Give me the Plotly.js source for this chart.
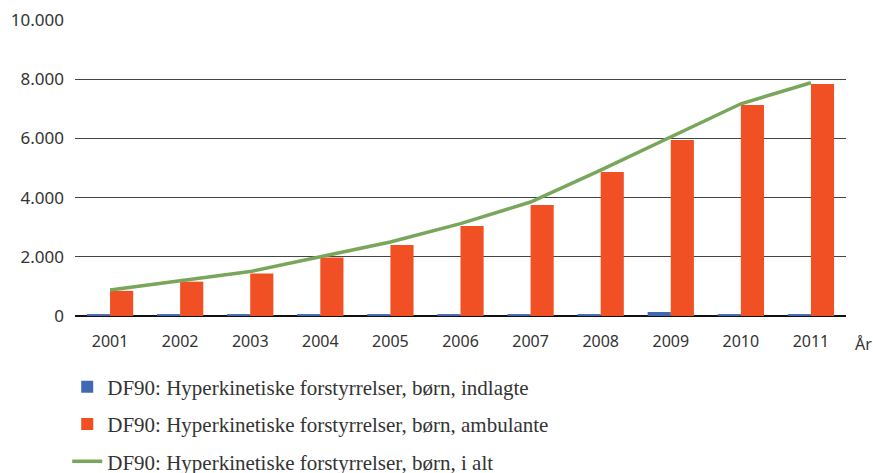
<!DOCTYPE html>
<html>
<head>
<meta charset="utf-8">
<script src="https://cdn.plot.ly/plotly-3.0.1.min.js"></script>
<style>html,body{margin:0;padding:0;background:#fff;}#chart{width:873px;height:473px;}</style>
</head>
<body>
<div id="chart"></div>
<script>
const years = ['2001','2002','2003','2004','2005','2006','2007','2008','2009','2010','2011'];
const indlagte = [65, 65, 65, 65, 65, 65, 65, 65, 135, 65, 65];
const ambulante = [850, 1160, 1440, 1980, 2400, 3040, 3750, 4865, 5950, 7130, 7840];
const iAlt = [880, 1200, 1500, 2000, 2500, 3120, 3850, 4930, 6040, 7170, 7880];
const yTicks = [0, 2000, 4000, 6000, 8000, 10000];
const yTickText = ['0', '2.000', '4.000', '6.000', '8.000', '10.000'];
const names = [
  'DF90: Hyperkinetiske forstyrrelser, børn, indlagte',
  'DF90: Hyperkinetiske forstyrrelser, børn, ambulante',
  'DF90: Hyperkinetiske forstyrrelser, børn, i alt'
];

const traces = [
  {type:'bar', x:years, y:indlagte, name:names[0], marker:{color:'#4068b3'}, legendgroup:'a', hoverinfo:'y'},
  {type:'bar', x:years, y:ambulante, name:names[1], marker:{color:'#f05023'}, legendgroup:'b', hoverinfo:'y'},
  {type:'scatter', mode:'lines', x:years, y:iAlt, name:names[2], line:{color:'#78a65a', width:3.5}, legendgroup:'c', hoverinfo:'y'}
];

const layout = {
  width:873, height:473,
  margin:{l:75, r:27, t:20, b:157, autoexpand:false},
  paper_bgcolor:'#fff', plot_bgcolor:'#fff',
  barmode:'group', bargap:0.34, bargroupgap:0,
  font:{family:'Noto Sans, sans-serif', color:'#333'},
  xaxis:{
    type:'category', showgrid:false, showline:false, zeroline:false, automargin:false,
    ticks:'', tickfont:{size:16, color:'#333'}, ticklabelstandoff:14
  },
  yaxis:{
    range:[0,10000], tickvals:yTicks, ticktext:yTickText, automargin:false,
    showgrid:true, gridcolor:'#444', gridwidth:1,
    zeroline:true, zerolinecolor:'#111', zerolinewidth:1.2,
    showline:false, ticks:'', tickfont:{size:17, color:'#333'}, ticklabelstandoff:10
  },
  showlegend:true,
  legend:{
    orientation:'v', xref:'container', yref:'container',
    x:0.077, xanchor:'left', y:0.225, yanchor:'top',
    traceorder:'grouped', tracegroupgap:7,
    font:{family:'Liberation Serif, serif', size:21, color:'#333'},
    bgcolor:'rgba(0,0,0,0)'
  },
  annotations:[
    {xref:'paper', yref:'paper', x:1.009, y:0, xanchor:'left', yanchor:'top', yshift:-15,
     text:'År', showarrow:false, font:{size:16, color:'#333'}}
  ]
};

Plotly.newPlot('chart', traces, layout, {displayModeBar:false, staticPlot:true});
</script>
</body>
</html>
